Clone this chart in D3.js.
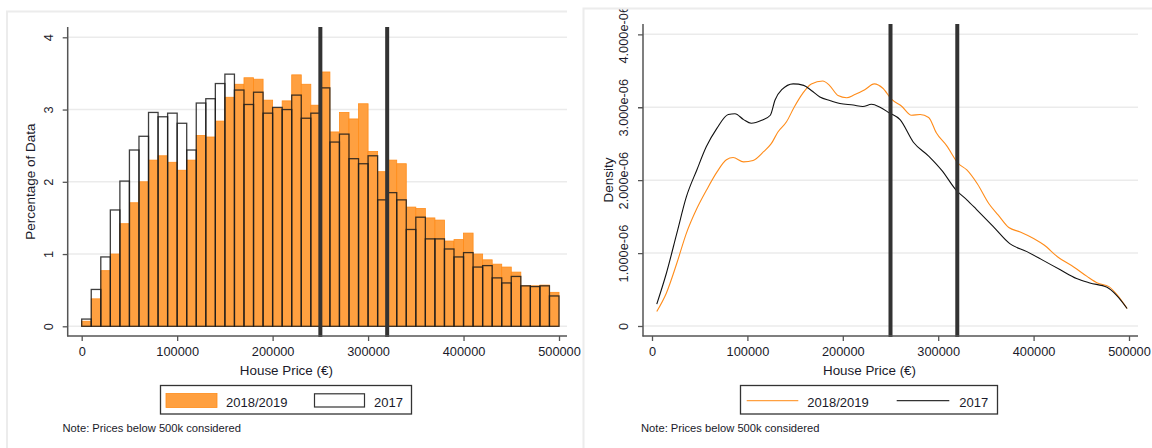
<!DOCTYPE html>
<html><head><meta charset="utf-8">
<script src="https://cdn.jsdelivr.net/npm/d3@7"></script>
<style>body{margin:0;background:#fff}svg{display:block;font-family:"Liberation Sans",Arial,sans-serif}</style>
</head><body>
<svg id="c" width="1152" height="448"></svg>
<script>
// ---- data ----
const seriesNames = ["2018/2019", "2017"];
const binWidth = 10000;
const binStarts = d3.range(0, 500000, binWidth);
const pct2018 = [0.07,0.38,0.77,1.00,1.42,1.71,2.00,2.30,2.36,2.27,2.16,2.30,2.64,2.62,2.84,3.17,3.35,3.44,3.42,3.13,
  3.02,3.12,3.48,3.35,3.06,3.52,2.69,2.96,2.87,3.08,2.42,2.14,2.30,2.25,1.65,1.63,1.50,1.47,1.18,1.20,
  1.29,1.00,0.92,0.86,0.82,0.75,0.56,0.56,0.57,0.47];
const pct2017 = [0.10,0.51,0.96,1.61,2.01,2.44,2.63,2.96,2.90,2.95,2.81,2.44,3.09,3.15,3.36,3.49,3.27,3.07,3.24,2.95,
  3.03,3.00,3.20,2.88,2.95,3.30,2.55,2.66,2.32,2.25,2.36,1.75,1.85,1.75,1.34,1.51,1.21,1.21,1.07,0.96,
  1.02,0.82,0.84,0.67,0.60,0.69,0.56,0.55,0.56,0.42];
// density curves: [price (thousand EUR), density (x1e-6)]
const dens2018 = [[5,0.20],[15,0.45],[26,0.86],[36,1.27],[47,1.61],[57,1.86],[68,2.11],[78,2.28],[85,2.31],[96,2.25],
  [106,2.27],[117,2.39],[125,2.50],[132,2.66],[141,2.80],[149,3.00],[158,3.19],[167,3.32],[179,3.36],[186,3.30],
  [195,3.16],[204,3.13],[212,3.17],[223,3.24],[233,3.32],[242,3.26],[251,3.11],[262,3.01],[272,2.89],[281,2.90],
  [290,2.86],[298,2.65],[309,2.47],[321,2.23],[330,2.14],[341,1.95],[353,1.68],[363,1.52],[374,1.35],[386,1.29],
  [400,1.20],[411,1.11],[425,0.95],[442,0.81],[456,0.68],[467,0.59],[479,0.54],[488,0.42],[498,0.24]];
const dens2017 = [[5,0.30],[15,0.72],[26,1.27],[36,1.77],[47,2.14],[57,2.46],[68,2.71],[80,2.90],[87,2.91],[96,2.83],
  [104,2.78],[115,2.82],[124,2.89],[129,3.10],[136,3.24],[148,3.32],[159,3.30],[167,3.23],[176,3.14],[187,3.09],
  [197,3.05],[211,3.03],[221,3.01],[230,3.04],[239,3.00],[249,2.92],[260,2.83],[274,2.52],[290,2.33],[304,2.13],
  [319,1.86],[330,1.73],[340,1.60],[358,1.36],[375,1.13],[393,1.02],[410,0.90],[428,0.77],[445,0.65],[459,0.59],
  [477,0.53],[487,0.42],[498,0.24]];
const refLines = [250000, 320000];
const xTicks = [0,100000,200000,300000,400000,500000];
const yTicksPct = [0,1,2,3,4];
const yTicksDens = [0,1e-6,2e-6,3e-6,4e-6];
const yTickLabelsDens = ["0","1.000e-06","2.000e-06","3.000e-06","4.000e-06"];
const xTitle = "House Price (€)";
const yTitleL = "Percentage of Data";
const yTitleR = "Density";
const note = "Note: Prices below 500k considered";

// ---- styles ----
const ORANGE = "#ffa040", ORANGE_EDGE = "#ff8c1a", ORANGE_LINE = "#ff8c1a";
const AXIS = "#555", TXT = "#1a1a2a", GRID = "#ebebeb", PANEL = "#ececec";

const svg = d3.select("#c");
const defs = svg.append("defs");
defs.append("clipPath").attr("id","clipR").append("rect").attr("x",583).attr("y",9.5).attr("width",569).attr("height",439);

// panel borders
svg.append("path").attr("d","M7,448V11.5H567").attr("fill","none").attr("stroke",PANEL).attr("stroke-width",2);
svg.append("path").attr("d","M583.5,448V8.5H1152").attr("fill","none").attr("stroke",PANEL).attr("stroke-width",2);

function drawGrid(g, y, yTicks, axisX, axisRight) {
  g.append("g").selectAll("line").data(yTicks).join("line")
    .attr("x1", axisX).attr("x2", axisRight).attr("y1", d=>y(d)).attr("y2", d=>y(d))
    .attr("stroke", GRID).attr("stroke-width", 1.5);
}
function drawAxes(g, x, y, yTicks, yFmt, axisX, axisTop, axisRight, labelOff) {
  const ax = g.append("g").attr("transform","translate(0,336)")
    .call(d3.axisBottom(x).tickValues(xTicks).tickSize(5).tickFormat(d3.format("d")));
  ax.select(".domain").remove();
  ax.selectAll(".tick line").attr("stroke",AXIS).attr("stroke-width",1.3);
  ax.selectAll(".tick text").attr("font-size","12.8px").attr("fill",TXT).attr("font-family","Liberation Sans, Arial, sans-serif").attr("y",8).attr("dy","0.95em");
  g.append("line").attr("x1",axisX-0.5).attr("x2",axisRight).attr("y1",336).attr("y2",336).attr("stroke",AXIS).attr("stroke-width",1.5);
  const ay = g.append("g").attr("transform",`translate(${axisX},0)`)
    .call(d3.axisLeft(y).tickValues(yTicks).tickSize(5).tickFormat(yFmt));
  ay.select(".domain").remove();
  ay.selectAll(".tick line").attr("stroke",AXIS).attr("stroke-width",1.3);
  ay.selectAll(".tick text").attr("font-size","12.8px").attr("fill",TXT).attr("font-family","Liberation Sans, Arial, sans-serif")
    .attr("transform","rotate(-90)").attr("x",0).attr("y",labelOff).attr("dy",0).attr("text-anchor","middle");
  g.append("line").attr("x1",axisX).attr("x2",axisX).attr("y1",axisTop).attr("y2",336.5).attr("stroke",AXIS).attr("stroke-width",1.5);
}

// ---------- LEFT: histogram ----------
const xL = d3.scaleLinear().domain([0,500000]).range([81.7,559]);
const yL = d3.scaleLinear().domain([0,4]).range([326.3,37.3]);
const gL = svg.append("g");
drawGrid(gL, yL, yTicksPct, 67.7, 567);
gL.append("g").selectAll("rect").data(binStarts).join("rect")
  .attr("x", d=>xL(d)).attr("width", d=>xL(d+binWidth)-xL(d))
  .attr("y", (d,i)=>yL(pct2018[i])).attr("height",(d,i)=>yL(0)-yL(pct2018[i]))
  .attr("fill",ORANGE).attr("stroke",ORANGE_EDGE).attr("stroke-width",0.8);
gL.append("g").selectAll("rect").data(binStarts).join("rect")
  .attr("x", d=>xL(d)).attr("width", d=>xL(d+binWidth)-xL(d))
  .attr("y", (d,i)=>yL(pct2017[i])).attr("height",(d,i)=>yL(0)-yL(pct2017[i]))
  .attr("fill","none").attr("stroke","#1c1c1c").attr("stroke-opacity",0.85).attr("stroke-width",1.3);
gL.append("g").selectAll("line").data(refLines).join("line")
  .attr("x1",d=>xL(d)).attr("x2",d=>xL(d)).attr("y1",27).attr("y2",337)
  .attr("stroke","#333").attr("stroke-width",4);
drawAxes(gL, xL, yL, yTicksPct, d3.format("d"), 67.7, 27, 567, -15);
gL.append("text").attr("transform","translate(34.5,181.7) rotate(-90)").attr("text-anchor","middle")
  .attr("font-size","13.5px").attr("fill",TXT).text(yTitleL);
gL.append("text").attr("x",(xL(0)+xL(500000))/2 - 34).attr("y",375).attr("text-anchor","middle")
  .attr("font-size","13.4px").attr("fill",TXT).text(xTitle);
// legend
const lgL = gL.append("g");
lgL.append("rect").attr("x",160.5).attr("y",385.5).attr("width",251).attr("height",28.5).attr("fill","#fff").attr("stroke","#333").attr("stroke-width",1.3);
lgL.append("rect").attr("x",166).attr("y",393.5).attr("width",51).attr("height",14).attr("fill",ORANGE).attr("stroke",ORANGE_EDGE).attr("stroke-width",0.8);
lgL.append("text").attr("x",226).attr("y",406.5).attr("font-size","13px").attr("fill",TXT).text(seriesNames[0]);
lgL.append("rect").attr("x",314.5).attr("y",393.8).attr("width",50).attr("height",13.2).attr("fill","#fff").attr("stroke","#333").attr("stroke-width",1.2);
lgL.append("text").attr("x",374).attr("y",406.5).attr("font-size","13px").attr("fill",TXT).text(seriesNames[1]);
gL.append("text").attr("x",62.5).attr("y",431.5).attr("font-size","11.2px").attr("fill",TXT).text(note);

// ---------- RIGHT: density ----------
const xR = d3.scaleLinear().domain([0,500000]).range([652,1129]);
const yR = d3.scaleLinear().domain([0,4e-6]).range([326,34.3]);
const gR = svg.append("g").attr("clip-path","url(#clipR)");
drawGrid(gR, yR, yTicksDens, 643, 1138);
const line = d3.line().x(d=>xR(d[0]*1000)).y(d=>yR(d[1]*1e-6)).curve(d3.curveMonotoneX);
gR.append("path").datum(dens2018).attr("d",line).attr("fill","none").attr("stroke",ORANGE_LINE).attr("stroke-width",1.1);
gR.append("path").datum(dens2017).attr("d",line).attr("fill","none").attr("stroke","#111").attr("stroke-width",1.1);
gR.append("g").selectAll("line").data(refLines).join("line")
  .attr("x1",d=>xR(d)).attr("x2",d=>xR(d)).attr("y1",24).attr("y2",337)
  .attr("stroke","#333").attr("stroke-width",4);
drawAxes(gR, xR, yR, yTicksDens, (d,i)=>yTickLabelsDens[i], 643, 24, 1138, -15.5);
gR.append("text").attr("transform","translate(612.5,180) rotate(-90)").attr("text-anchor","middle")
  .attr("font-size","13.5px").attr("fill",TXT).text(yTitleR);
gR.append("text").attr("x",(xR(0)+xR(500000))/2 - 21).attr("y",375).attr("text-anchor","middle")
  .attr("font-size","13.4px").attr("fill",TXT).text(xTitle);
const lgR = gR.append("g");
lgR.append("rect").attr("x",740.5).attr("y",385.5).attr("width",257).attr("height",28.5).attr("fill","#fff").attr("stroke","#333").attr("stroke-width",1.3);
lgR.append("line").attr("x1",746.7).attr("x2",798.3).attr("y1",400.7).attr("y2",400.7).attr("stroke",ORANGE).attr("stroke-width",1.3);
lgR.append("text").attr("x",807.3).attr("y",406.5).attr("font-size","13px").attr("fill",TXT).text(seriesNames[0]);
lgR.append("line").attr("x1",896.7).attr("x2",949.3).attr("y1",400.7).attr("y2",400.7).attr("stroke","#333").attr("stroke-width",1.3);
lgR.append("text").attr("x",959.3).attr("y",406.5).attr("font-size","13px").attr("fill",TXT).text(seriesNames[1]);
gR.append("text").attr("x",641).attr("y",431.5).attr("font-size","11.2px").attr("fill",TXT).text(note);
</script>
</body></html>
